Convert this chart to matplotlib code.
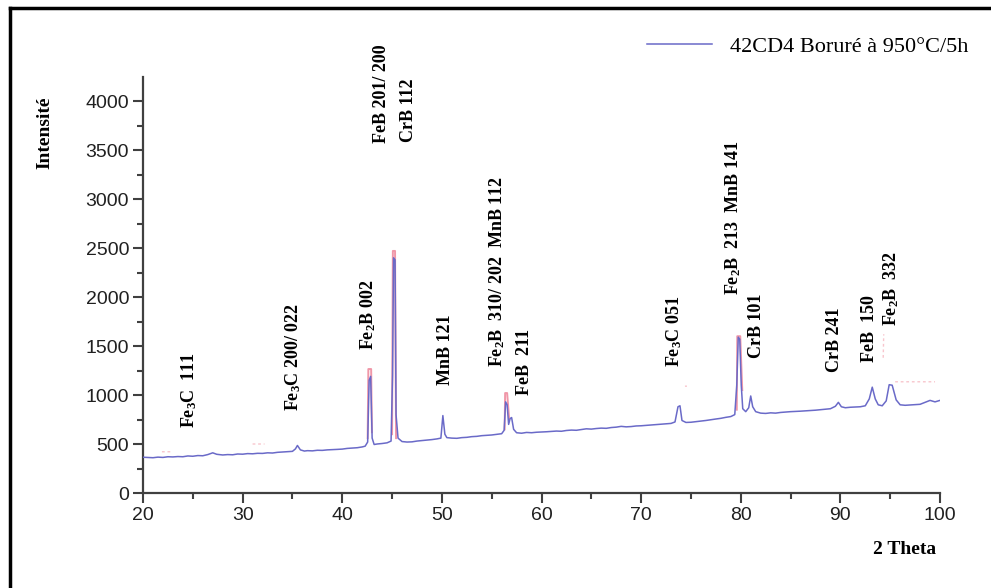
import matplotlib
matplotlib.use('Agg')
import matplotlib.pyplot as plt
from matplotlib.lines import Line2D
from matplotlib.ticker import MultipleLocator
import numpy as np

# Spectre DRX - 42CD4 boruré
theta = [20.0, 20.5, 21.0, 21.5, 22.0, 22.5, 23.0, 23.5, 24.0, 24.5, 25.0, 25.5, 26.0, 26.5,
         27.0, 27.4, 28.0, 28.5, 29.0, 29.5, 30.0, 30.5, 31.0, 31.5, 32.0, 32.5, 33.0, 33.5,
         34.0, 34.5, 35.0, 35.3, 35.5, 35.8, 36.2, 36.5, 37.0, 37.5, 38.0, 38.5, 39.0, 39.5,
         40.0, 40.5, 41.0, 41.5, 42.0, 42.3, 42.55, 42.7, 42.85, 43.0, 43.2, 43.5, 44.0, 44.5,
         44.9, 45.05, 45.15, 45.3, 45.4, 45.6, 46.0, 46.5, 47.0, 47.5, 48.0, 48.5, 49.0, 49.5,
         49.9, 50.1, 50.3, 50.5, 51.0, 51.5, 52.0, 52.5, 53.0, 53.5, 54.0, 54.5, 55.0, 55.5,
         56.0, 56.25, 56.4, 56.55, 56.7, 56.85, 57.0, 57.2, 57.5, 58.0, 58.5, 59.0, 59.5, 60.0,
         60.5, 61.0, 61.5, 62.0, 62.5, 63.0, 63.5, 64.0, 64.5, 65.0, 65.5, 66.0, 66.5, 67.0,
         67.5, 68.0, 68.5, 69.0, 69.5, 70.0, 70.5, 71.0, 71.5, 72.0, 72.5, 73.0, 73.4, 73.7,
         73.9, 74.1, 74.5, 75.0, 75.5, 76.0, 76.5, 77.0, 77.5, 78.0, 78.5, 79.0, 79.4, 79.6,
         79.75, 79.9, 80.05, 80.2, 80.5, 80.8, 81.0, 81.2, 81.5, 82.0, 82.5, 83.0, 83.5, 84.0,
         84.5, 85.0, 85.5, 86.0, 86.5, 87.0, 87.5, 88.0, 88.5, 89.0, 89.5, 89.8, 90.1, 90.5,
         91.0, 91.5, 92.0, 92.5, 92.9, 93.2, 93.5, 93.8, 94.2, 94.6, 94.9, 95.2, 95.6, 96.0,
         96.5, 97.0, 97.5, 98.0, 98.5, 99.0, 99.5, 100.0]
intensite = [365, 362, 360, 366, 363, 370, 368, 372, 370, 378, 375, 382, 380, 392,
             410, 395, 388, 392, 390, 398, 396, 402, 400, 405, 404, 410, 408, 415,
             418, 420, 425, 450, 485, 440, 428, 432, 430, 436, 435, 440, 442, 445,
             448, 455, 458, 462, 470, 478, 520, 1150, 1190, 560, 495, 500, 505, 512,
             530, 1200, 2400, 2380, 800, 560, 525, 520, 522, 530, 535, 540, 545, 552,
             560, 790, 600, 565, 560, 558, 565, 568, 575, 578, 585, 588, 592, 598,
             605, 640, 930, 900, 700, 760, 770, 650, 615, 610, 618, 615, 620, 622,
             625, 628, 632, 630, 638, 642, 640, 648, 655, 652, 658, 662, 660, 668,
             672, 680, 675, 678, 684, 686, 690, 695, 698, 702, 705, 710, 725, 880,
             890, 740, 720, 722, 728, 735, 740, 748, 755, 762, 772, 780, 800, 1100,
             1590, 1570, 1100, 860, 830, 870, 990, 880, 830, 815, 812, 818, 815, 822,
             826, 830, 832, 835, 838, 842, 845, 850, 855, 860, 885, 925, 880, 870,
             875, 878, 880, 890, 960, 1080, 960, 900, 890, 940, 1105, 1100, 950, 900,
             895, 898, 900, 905, 925, 945, 930, 945]

# second tracé (rouge), visible seulement autour des pics principaux
theta_r = [42.55, 42.62, 42.9, 42.98, np.nan, 45.0, 45.08, 45.3, 45.4, np.nan,
           56.3, 56.35, 56.55, 56.75, np.nan, 79.6, 79.65, 79.95, 80.15]
int_r = [560, 1265, 1265, 620, np.nan, 600, 2470, 2470, 560, np.nan,
         650, 1020, 1020, 760, np.nan, 850, 1600, 1600, 1050]
# petits traits rouges isolés
theta_rd = [19.9, 20.1, np.nan, 21.9, 23.0, np.nan, 31.0, 32.2, np.nan, 74.4, 74.6, np.nan,
            94.3, 94.35, np.nan, 95.5, 99.5]
int_rd = [430, 430, np.nan, 421, 421, np.nan, 500, 500, np.nan, 1090, 1090, np.nan,
          1380, 1620, np.nan, 1135, 1135]

# indexation des pics
pic_texte = ['Fe$_3$C  111', 'Fe$_3$C 200/ 022', 'Fe$_2$B 002', 'FeB 201/ 200', 'CrB 112',
             'MnB 121', 'Fe$_2$B  310/ 202  MnB 112', 'FeB  211', 'Fe$_3$C 051',
             'Fe$_2$B  213  MnB 141', 'CrB 101', 'CrB 241', 'FeB  150', 'Fe$_2$B  332']
pic_x = [24.6, 35.1, 42.6, 43.9, 46.6, 50.4, 55.5, 58.3, 73.3, 79.2, 81.6, 89.4, 92.9, 95.1]
pic_y = [660, 840, 1460, 3570, 3580, 1100, 1290, 1000, 1290, 2020, 1380, 1235, 1340, 1700]

plt.rcParams['mathtext.fontset'] = 'custom'
plt.rcParams['mathtext.rm'] = 'Liberation Serif:bold'
plt.rcParams['mathtext.it'] = 'Liberation Serif:bold'
plt.rcParams['mathtext.bf'] = 'Liberation Serif:bold'
plt.rcParams['mathtext.default'] = 'rm'

fig = plt.figure(figsize=(9.91, 5.88), dpi=100)
ax = fig.add_axes([143/991, 1-493/588, (940-143)/991, (493-77)/588])

ax.plot(theta_r, int_r, color='#e8607a', lw=1.4, alpha=0.65, zorder=2)
ax.plot(theta_rd, int_rd, color='#f08090', lw=1.0, alpha=0.45, ls=(0, (2, 2)), zorder=2)
ax.plot(theta, intensite, color='#6a6ac8', lw=1.1, zorder=3, label='42CD4 Boruré à 950°C/5h')

for t, x, y in zip(pic_texte, pic_x, pic_y):
    ax.text(x, y, t, rotation=90, ha='center', va='bottom', fontsize=13,
            family='Liberation Serif', fontweight='bold')

ax.set_xlim(20, 100)
ax.set_ylim(0, 4245)
ax.xaxis.set_major_locator(MultipleLocator(10))
ax.xaxis.set_minor_locator(MultipleLocator(5))
ax.yaxis.set_minor_locator(MultipleLocator(250))
ax.set_yticks(np.arange(0, 4001, 500))
ax.spines['top'].set_visible(False)
ax.spines['right'].set_visible(False)
for s in ['left', 'bottom']:
    ax.spines[s].set_linewidth(1.6)
    ax.spines[s].set_color('#404040')
ax.tick_params(which='major', direction='out', length=7, width=1.5, color='#404040',
               labelsize=14, labelcolor='#202020', pad=3)
ax.tick_params(which='minor', direction='out', length=4, width=1.5, color='#404040')
for lab in ax.get_xticklabels() + ax.get_yticklabels():
    lab.set_family('Liberation Sans')

fig.text(45/991, 1-133/588, 'Intensité', rotation=90, ha='center', va='center',
         fontsize=14, family='Liberation Serif', fontweight='bold')
fig.text(905/991, 1-549/588, '2 Theta', ha='center', va='center',
         fontsize=14, family='Liberation Serif', fontweight='bold')

fig.legend(loc='upper right', bbox_to_anchor=(988/991, 1-16/588), frameon=False,
           handlelength=2.9, prop={'family': 'Liberation Serif', 'size': 16})

# cadre de l'image
fig.add_artist(Line2D([10/991, 1], [1-8/588, 1-8/588], color='black', lw=2.5))
fig.add_artist(Line2D([10/991, 10/991], [0, 1-8/588], color='black', lw=2.5))

fig.savefig('out.png', dpi=100)
